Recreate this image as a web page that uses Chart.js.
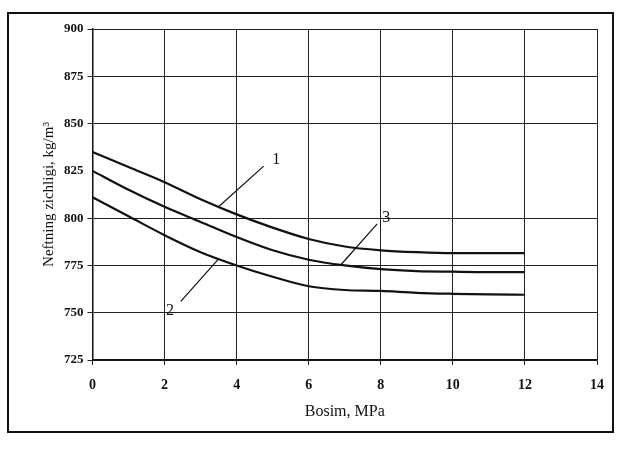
<!DOCTYPE html>
<html>
<head>
<meta charset="utf-8">
<script src="https://cdn.jsdelivr.net/npm/chart.js@4/dist/chart.umd.min.js"></script>
<style>
  html, body { margin: 0; padding: 0; background: #fff; }
  #wrap { position: relative; width: 621px; height: 451px; }
  #frame {
    position: absolute; left: 7px; top: 12px; width: 607px; height: 421px;
    border: 2px solid #111; box-sizing: border-box;
  }
  canvas { position: absolute; left: 0; top: 0; }
</style>
</head>
<body>
<div id="wrap">
  <div id="frame"></div>
  <canvas id="densityChart" width="621" height="451"></canvas>
</div>
<script>
// Bosim (pressure), MPa
const pressure = [0, 1, 2, 3, 4, 5, 6, 7, 8, 9, 10, 11, 12];

// Neftning zichligi (oil density), kg/m3, curves 1, 3, 2 top to bottom
const curve1 = [835, 827, 819, 810, 802, 795, 789, 785, 783, 782, 781.5, 781.5, 781.5];
const curve3 = [825, 815, 806, 798, 790, 783, 778, 775, 773, 772, 771.7, 771.5, 771.5];
const curve2 = [811, 801, 791, 782, 775, 769, 764, 762, 761.5, 760.5, 760, 759.7, 759.5];

const xTicks = [0, 2, 4, 6, 8, 10, 12, 14];
const yTicks = [725, 750, 775, 800, 825, 850, 875, 900];

// curve labels with leader lines (data coordinates)
const curveLabels = [
  { text: "1", from: [3.5, 806], to: [4.75, 827.5], at: [5.1, 831] },
  { text: "2", from: [3.5, 778.5], to: [2.45, 756], at: [2.15, 751] },
  { text: "3", from: [6.9, 775.5], to: [7.9, 797], at: [8.15, 800] }
];

function toPoints(ys) {
  return pressure.map((p, i) => ({ x: p, y: ys[i] }));
}

const serif = "'Liberation Serif', 'DejaVu Serif', serif";

const labelPlugin = {
  id: "curveLabels",
  afterDatasetsDraw(chart) {
    const { ctx, scales } = chart;
    ctx.save();
    ctx.strokeStyle = "#111";
    ctx.lineWidth = 1.2;
    ctx.fillStyle = "#111";
    ctx.font = "16px " + serif;
    ctx.textAlign = "center";
    ctx.textBaseline = "middle";
    curveLabels.forEach((l) => {
      ctx.beginPath();
      ctx.moveTo(scales.x.getPixelForValue(l.from[0]), scales.y.getPixelForValue(l.from[1]));
      ctx.lineTo(scales.x.getPixelForValue(l.to[0]), scales.y.getPixelForValue(l.to[1]));
      ctx.stroke();
      ctx.fillText(l.text, scales.x.getPixelForValue(l.at[0]), scales.y.getPixelForValue(l.at[1]));
    });
    ctx.restore();
  }
};

const lineStyle = {
  fill: false,
  borderColor: "#111",
  borderWidth: 2.2,
  pointRadius: 0,
  tension: 0.4,
  cubicInterpolationMode: "monotone"
};

const ctx = document.getElementById("densityChart").getContext("2d");
const densityChart = new Chart(ctx, {
  type: "line",
  data: {
    datasets: [
      { label: "1", data: toPoints(curve1), ...lineStyle },
      { label: "3", data: toPoints(curve3), ...lineStyle },
      { label: "2", data: toPoints(curve2), ...lineStyle }
    ]
  },
  options: {
    responsive: false,
    animation: false,
    layout: { padding: { left: 36, right: 24, top: 29, bottom: 30 } },
    plugins: {
      legend: { display: false },
      tooltip: { enabled: false }
    },
    scales: {
      x: {
        type: "linear",
        min: 0,
        max: 14,
        afterBuildTicks: (axis) => { axis.ticks = xTicks.map((v) => ({ value: v })); },
        grid: { color: "#222", lineWidth: 1, tickLength: 5 },
        border: { color: "#111", width: 1.5 },
        ticks: { color: "#111", font: { family: serif, size: 14, weight: "bold" }, padding: 12 },
        title: {
          display: true,
          text: "Bosim, MPa",
          color: "#111",
          font: { family: serif, size: 16 },
          padding: { top: -4, bottom: 0 }
        }
      },
      y: {
        min: 725,
        max: 900,
        afterBuildTicks: (axis) => { axis.ticks = yTicks.map((v) => ({ value: v })); },
        grid: {
          color: (c) => (c.tick && c.tick.value === 825 ? "rgba(0,0,0,0)" : "#222"),
          lineWidth: 1,
          tickLength: 5
        },
        border: { color: "#111", width: 1.5 },
        ticks: { color: "#111", font: { family: serif, size: 13, weight: "bold" }, padding: 4 },
        title: {
          display: true,
          text: "Neftning zichligi, kg/m³",
          color: "#111",
          font: { family: serif, size: 15 },
          padding: { bottom: 2 }
        }
      }
    }
  },
  plugins: [labelPlugin]
});
</script>
</body>
</html>
